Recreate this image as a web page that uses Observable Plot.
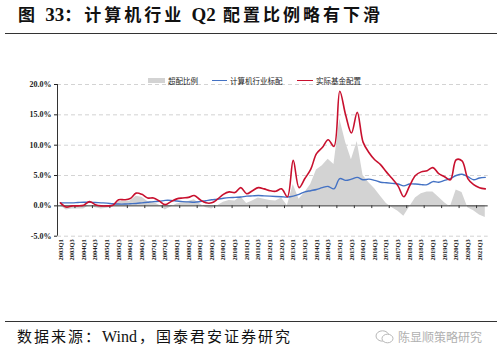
<!DOCTYPE html>
<html>
<head>
<meta charset="utf-8">
<script src="https://cdn.jsdelivr.net/npm/d3@7"></script>
<script src="https://cdn.jsdelivr.net/npm/@observablehq/plot@0.6"></script>
<style>
  html, body { margin: 0; padding: 0; background: #fff; }
  #wrap { position: relative; width: 499px; height: 358px; overflow: hidden; background: #fff; }
  #title { position: absolute; left: 18px; top: 5px; font-family: "Liberation Serif", "Noto Sans CJK SC", serif; font-weight: bold; font-size: 17px; line-height: 20px; letter-spacing: 3px; color: #111; white-space: nowrap; }
  .lat { letter-spacing: 0; font-size: 19px; }
  .hline { position: absolute; left: 5px; width: 492px; height: 0; border-top: 1px solid #333; }
  #chart { position: absolute; left: 0; top: 36px; }
  #legend { position: absolute; top: 75px; left: 0; width: 499px; height: 12px; font-family: "Noto Sans CJK SC", sans-serif; font-size: 7.5px; color: #222; }
  .lg { position: absolute; top: 0; display: flex; align-items: center; height: 10px; white-space: nowrap; }
  .sw { display: inline-block; margin-right: 3px; }
  #source { position: absolute; left: 17px; top: 328px; font-family: "Liberation Serif", "Noto Sans CJK SC", serif; font-size: 15px; line-height: 18px; letter-spacing: 2px; color: #111; white-space: nowrap; }
  #source .w { letter-spacing: 0; font-size: 16px; margin-right: 2px; }
  #wm { position: absolute; left: 375px; top: 328px; display: flex; align-items: center; font-family: "Noto Sans CJK SC", sans-serif; font-size: 12px; color: #b0b0b0; white-space: nowrap; }
</style>
</head>
<body>
<div id="wrap">
  <div id="title">图 <span class="lat">33</span>：计算机行业 <span class="lat">Q2</span> 配置比例略有下滑</div>
  <div class="hline" style="top:33px"></div>
  <div id="chart"></div>
  <div id="legend"></div>
  <div class="hline" style="top:321px"></div>
  <div id="source">数据来源：<span class="w">Wind</span>，国泰君安证券研究</div>
  <div id="wm"><svg width="20" height="16" viewBox="0 0 20 16"><ellipse cx="7.5" cy="7" rx="6.5" ry="5.2" fill="none" stroke="#b8b8b8" stroke-width="1"/><ellipse cx="12.5" cy="9.5" rx="5.5" ry="4.3" fill="#fff" stroke="#b8b8b8" stroke-width="1"/></svg><span style="margin-left:3px">陈显顺策略研究</span></div>
</div>
<script>
// Categories: quarters 2003Q1 .. 2021Q2
const quarters = [];
for (let y = 2003; y <= 2021; y++) {
  for (let q = 1; q <= 4; q++) {
    if (y === 2021 && q > 2) break;
    quarters.push(y + "Q" + q);
  }
}

// 实际基金配置 (%)
const actual = [
  0.5,-0.2,0.0,0.0,0.1,0.7,0.2,0.0,0.0,0.1,
  1.0,1.0,1.2,2.1,1.9,1.3,1.3,0.8,0.2,0.7,
  1.15,1.3,1.4,1.7,1.0,0.5,0.5,1.1,1.9,2.3,
  2.2,3.0,2.0,2.5,3.0,2.8,2.5,2.4,2.8,1.5,
  7.5,3.0,4.5,6.0,8.6,9.6,10.9,9.8,18.9,15.0,
  12.0,15.4,10.5,8.8,7.6,6.8,5.6,4.5,3.3,1.5,
  3.3,5.0,5.6,5.8,6.3,5.3,4.8,4.3,7.6,7.4,
  4.5,3.5,3.0,2.8
];

// 计算机行业标配 (%)
const benchmark = [
  0.5,0.5,0.5,0.55,0.6,0.6,0.55,0.5,0.45,0.35,
  0.3,0.3,0.35,0.4,0.5,0.6,0.7,0.75,0.9,0.9,
  0.8,0.7,0.65,0.6,0.7,0.85,1.0,1.1,1.25,1.35,
  1.4,1.45,1.6,1.65,1.7,1.65,1.6,1.55,1.5,1.45,
  1.6,1.9,2.3,2.5,2.7,3.0,3.2,2.8,4.5,4.2,
  4.4,4.7,4.3,4.4,4.2,3.9,3.8,3.7,3.6,3.3,
  3.6,3.6,3.5,3.5,4.0,3.9,4.2,4.5,5.0,5.2,
  4.8,4.3,4.6,4.7
];

// 超配比例 (%)
const overweight = [
  0.0,-0.7,-0.5,-0.5,-0.5,0.1,-0.3,-0.5,-0.4,-0.2,
  0.7,0.7,0.8,1.6,1.4,0.7,0.6,0.1,-0.7,-0.2,
  0.3,0.5,0.7,1.0,0.3,-0.3,-0.5,0.0,0.6,0.9,
  0.8,1.5,0.4,0.8,1.3,1.1,0.9,0.8,1.3,0.0,
  3.5,1.1,2.2,3.5,5.9,6.6,7.7,6.8,14.3,10.5,
  7.6,10.6,5.0,3.8,2.8,1.6,0.4,-0.3,-0.9,-1.7,
  -0.2,1.3,2.0,2.3,2.3,1.4,0.5,-0.2,2.6,2.2,
  -0.3,-0.8,-1.5,-1.9
];

const yTicks = [-5, 0, 5, 10, 15, 20];
const gridValues = [-5, 5, 10, 15, 20];
const seriesNames = ["超配比例", "计算机行业标配", "实际基金配置"];
const colors = { over: "#d3d3d3", bench: "#4472c4", actual: "#c8102e" };

const data = quarters.map((q, i) => ({ i, q, actual: actual[i], bench: benchmark[i], over: overweight[i] }));
const labelIdx = quarters.map((q, i) => i).filter(i => i % 2 === 0);
const tickIdx = quarters.map((q, i) => i).filter(i => i > 0 && i % 3 === 0).map(i => i - 0.5);

const chart = Plot.plot({
  width: 499,
  height: 282,
  marginLeft: 57,
  marginRight: 11.3,
  marginTop: 48,
  marginBottom: 82.3,
  style: { fontFamily: "Liberation Serif, serif", color: "#222", background: "transparent" },
  x: { domain: [-0.5, quarters.length - 0.5], axis: null, label: null },
  y: { domain: [-5, 20], axis: null, label: null },
  marks: [
    Plot.ruleY(gridValues, { stroke: "#c8c8c8", strokeWidth: 0.8, strokeDasharray: "4,3" }),
    Plot.areaY(data, { x: "i", y: "over", fill: colors.over, curve: "linear" }),
    Plot.ruleY([0], { stroke: "#333", strokeWidth: 1 }),
    Plot.ruleX(tickIdx, { y1: 0, y2: -0.45, stroke: "#333", strokeWidth: 1 }),
    Plot.ruleX([-0.5], { stroke: "#333", strokeWidth: 1 }),
    Plot.line(data, { x: "i", y: "bench", stroke: colors.bench, strokeWidth: 1.4, curve: "catmull-rom" }),
    Plot.line(data, { x: "i", y: "actual", stroke: colors.actual, strokeWidth: 1.6, curve: "catmull-rom" }),
    Plot.axisY({ ticks: yTicks, tickFormat: d => d.toFixed(1) + "%", tickSize: 3, tickPadding: 3, fontSize: 8, fontWeight: "bold", label: null }),
    Plot.axisX({ ticks: labelIdx, tickFormat: i => quarters[i], tickRotate: -90, tickSize: 0, tickPadding: 3, fontSize: 6.5, fontWeight: "bold", label: null })
  ]
});
document.getElementById("chart").appendChild(chart);

// Legend
const legend = document.getElementById("legend");
const items = [
  { name: seriesNames[0], left: 148, sw: `<span class="sw" style="width:17px;height:5px;background:${colors.over}"></span>` },
  { name: seriesNames[1], left: 212, sw: `<span class="sw" style="width:15px;height:0;border-top:1.4px solid ${colors.bench}"></span>` },
  { name: seriesNames[2], left: 297, sw: `<span class="sw" style="width:16px;height:0;border-top:1.6px solid ${colors.actual}"></span>` }
];
for (const it of items) {
  const d = document.createElement("div");
  d.className = "lg";
  d.style.left = it.left + "px";
  d.innerHTML = it.sw + "<span>" + it.name + "</span>";
  legend.appendChild(d);
}
</script>
</body>
</html>
